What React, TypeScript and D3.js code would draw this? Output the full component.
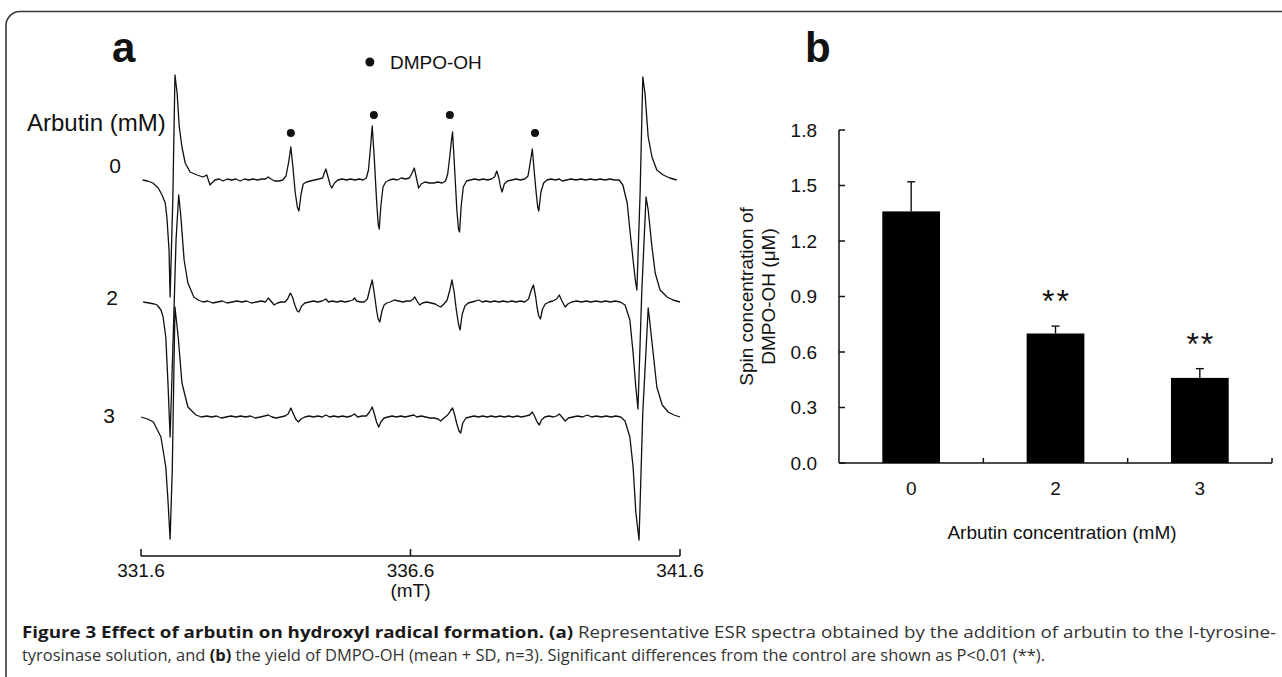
import React from "react";
import * as d3 from "d3";

type Pt = [number, number];

// ESR spectra: [field (mT), signal (a.u.)]
const spectrum0: Pt[] = [
  [331.63, 0], [331.72, -1], [331.82, -3], [331.92, -8], [331.99, -15], [332.05, -23],
  [332.08, -37], [332.12, -70], [332.14, -117], [332.19, -20], [332.23, 105], [332.27, 87],
  [332.31, 53], [332.36, 33], [332.42, 17], [332.51, 8], [332.64, 5], [332.75, 3],
  [332.82, 5], [332.88, -5], [332.97, 0], [333.05, 1], [333.12, -1], [333.2, 1],
  [333.28, 0], [333.36, 1], [333.44, -1], [333.52, 1], [333.6, 0], [333.68, 1],
  [333.76, 0], [333.84, 1], [333.91, 1], [333.96, 3], [334.01, 1], [334.08, -1],
  [334.16, -1], [334.23, 0], [334.29, 4], [334.34, 18], [334.38, 33], [334.42, 12],
  [334.46, -12], [334.5, -27], [334.53, -31], [334.57, -14], [334.61, -4], [334.67, -2],
  [334.74, -1], [334.82, 0], [334.9, 1], [334.97, 2], [335.0, 7], [335.03, 11],
  [335.07, 3], [335.11, -5], [335.14, -8], [335.19, -3], [335.25, 0], [335.33, 1],
  [335.41, 0], [335.49, 1], [335.57, 0], [335.65, 1], [335.72, 0], [335.78, 2],
  [335.82, 10], [335.86, 34], [335.89, 54], [335.93, 20], [335.97, -20], [336.0, -44],
  [336.02, -49], [336.05, -26], [336.09, -7], [336.14, -2], [336.21, 0], [336.28, 1],
  [336.35, 0], [336.43, 2], [336.51, 1], [336.58, 2], [336.63, 7], [336.67, 12],
  [336.71, 2], [336.75, -8], [336.8, -4], [336.87, -2], [336.95, -3], [337.03, -3],
  [337.11, -2], [337.19, -3], [337.25, -1], [337.29, 6], [337.33, 24], [337.36, 40],
  [337.38, 48], [337.42, 10], [337.46, -30], [337.49, -49], [337.51, -52], [337.54, -26],
  [337.58, -7], [337.64, -1], [337.71, 0], [337.79, 1], [337.87, 0], [337.95, 1],
  [338.03, 0], [338.1, 1], [338.16, 3], [338.2, 9], [338.24, 2], [338.27, -7],
  [338.3, -12], [338.34, -4], [338.4, -1], [338.48, 0], [338.56, 1], [338.64, 0],
  [338.72, 1], [338.78, 4], [338.82, 17], [338.86, 31], [338.89, 12], [338.93, -12],
  [338.96, -27], [338.98, -31], [339.02, -12], [339.07, -3], [339.13, 0], [339.21, 1],
  [339.29, 0], [339.36, 1], [339.42, -1], [339.49, 0], [339.58, 1], [339.67, 0],
  [339.76, 1], [339.85, 0], [339.94, 1], [340.03, 0], [340.12, 1], [340.21, 0],
  [340.3, 1], [340.39, 0], [340.47, 0], [340.54, -5], [340.62, -23], [340.67, -50],
  [340.73, -80], [340.77, -100], [340.8, -110], [340.86, -13], [340.91, 103], [340.95, 87],
  [341.01, 43], [341.08, 23], [341.17, 10], [341.29, 5], [341.41, 2], [341.54, 0],
];

const spectrum2: Pt[] = [
  [331.64, 0], [331.75, -1], [331.85, -2], [331.9, -3], [331.97, -8], [332.01, -15],
  [332.06, -35], [332.1, -81], [332.14, -135], [332.19, -48], [332.25, 62], [332.3, 107],
  [332.34, 85], [332.4, 42], [332.47, 19], [332.58, 5], [332.66, 2], [332.75, 0],
  [332.84, 1], [332.93, -1], [333.02, 0], [333.11, 1], [333.2, -1], [333.29, 0],
  [333.38, 1], [333.47, 0], [333.56, 1], [333.65, -1], [333.74, 0], [333.83, 1],
  [333.91, 0], [333.96, 4], [334.01, 1], [334.07, -3], [334.13, -1], [334.2, 0],
  [334.27, 0], [334.32, 3], [334.37, 9], [334.41, 5], [334.46, -4], [334.5, -9],
  [334.53, -10], [334.58, -4], [334.64, -1], [334.72, 0], [334.8, 1], [334.88, 0],
  [334.96, 1], [335.03, 3], [335.08, 0], [335.15, 1], [335.23, 0], [335.31, 1],
  [335.39, 0], [335.47, 1], [335.53, 2], [335.56, 4], [335.6, 1], [335.67, 0],
  [335.74, 0], [335.8, 3], [335.85, 14], [335.89, 22], [335.93, 8], [335.97, -8],
  [336.0, -17], [336.03, -20], [336.07, -9], [336.11, -3], [336.16, -1], [336.22, 0],
  [336.3, 2], [336.38, 1], [336.46, 0], [336.53, 1], [336.6, 1], [336.65, 3],
  [336.68, 5], [336.72, 1], [336.77, -3], [336.82, -1], [336.9, 0], [336.98, -1],
  [337.06, -2], [337.12, -4], [337.16, -5], [337.22, -2], [337.28, 2], [337.33, 12],
  [337.37, 22], [337.41, 10], [337.45, -8], [337.49, -22], [337.52, -28], [337.56, -12],
  [337.61, -4], [337.67, -1], [337.74, 0], [337.81, 1], [337.87, 2], [337.93, 0],
  [338.0, 1], [338.08, 0], [338.16, 1], [338.24, 0], [338.32, 1], [338.4, 0],
  [338.48, 1], [338.56, 0], [338.64, 1], [338.72, 0], [338.79, 3], [338.84, 12],
  [338.88, 17], [338.92, 6], [338.95, -6], [338.98, -14], [339.01, -17], [339.05, -7],
  [339.1, -2], [339.17, 0], [339.24, 1], [339.31, 3], [339.36, 7], [339.41, 1],
  [339.47, -5], [339.52, -2], [339.59, 0], [339.68, 1], [339.77, 0], [339.86, 1],
  [339.95, 0], [340.04, 1], [340.13, 0], [340.22, 1], [340.31, 0], [340.4, 1],
  [340.49, 0], [340.58, -3], [340.67, -18], [340.73, -51], [340.78, -85], [340.82, -107],
  [340.89, 9], [340.97, 105], [341.01, 92], [341.08, 55], [341.14, 29], [341.23, 12],
  [341.36, 5], [341.47, 2], [341.6, 0],
];

const spectrum3: Pt[] = [
  [331.6, 0], [331.72, -2], [331.83, -5], [331.97, -20], [332.06, -50], [332.1, -83],
  [332.14, -122], [332.18, -53], [332.23, 110], [332.29, 80], [332.36, 34], [332.47, 10],
  [332.62, 2], [332.72, 0], [332.82, 1], [332.91, 0], [333.0, 1], [333.09, -1],
  [333.18, 0], [333.27, 1], [333.36, 0], [333.45, 1], [333.54, 0], [333.63, 1],
  [333.72, -1], [333.81, 0], [333.89, 1], [333.96, 2], [334.03, 0], [334.11, -1],
  [334.19, 0], [334.27, 1], [334.33, 3], [334.38, 9], [334.42, 4], [334.47, -2],
  [334.52, -5], [334.57, -2], [334.64, 0], [334.72, 1], [334.8, 0], [334.88, 1],
  [334.96, 0], [335.03, 2], [335.1, 0], [335.18, 1], [335.26, 0], [335.34, 1],
  [335.42, 0], [335.5, 1], [335.56, 3], [335.62, 0], [335.7, 1], [335.78, 1],
  [335.84, 5], [335.89, 10], [335.93, 3], [335.97, -5], [336.01, -10], [336.05, -5],
  [336.11, -1], [336.18, 0], [336.26, 1], [336.34, 0], [336.42, 1], [336.5, 0],
  [336.58, 1], [336.66, 2], [336.72, 0], [336.8, 1], [336.88, 0], [336.96, -1],
  [337.04, -1], [337.11, -2], [337.16, -4], [337.22, -1], [337.29, 2], [337.34, 6],
  [337.38, 9], [337.42, 2], [337.46, -7], [337.5, -14], [337.53, -16], [337.57, -6],
  [337.63, -1], [337.7, 0], [337.78, 1], [337.86, 0], [337.94, 1], [338.02, 0],
  [338.1, 1], [338.18, 0], [338.26, 1], [338.34, 0], [338.42, 1], [338.5, 0],
  [338.58, 1], [338.66, 0], [338.74, 1], [338.81, 2], [338.86, 5], [338.9, 1],
  [338.95, -5], [338.99, -8], [339.03, -3], [339.09, 0], [339.17, 1], [339.25, 0],
  [339.31, 1], [339.36, 3], [339.41, 0], [339.47, -4], [339.53, -1], [339.61, 0],
  [339.7, 1], [339.79, 0], [339.88, 2], [339.96, 0], [340.05, 1], [340.14, 0],
  [340.23, 1], [340.32, 0], [340.41, 1], [340.5, 0], [340.58, -4], [340.67, -20],
  [340.73, -50], [340.78, -95], [340.84, -123], [340.91, 5], [341.01, 109], [341.04, 95],
  [341.12, 55], [341.17, 30], [341.27, 12], [341.38, 5], [341.49, 2], [341.6, 0],
];

const spectra = [spectrum0, spectrum2, spectrum3];
const arbutinLevels = ["0", "2", "3"];
const traceOffsets = [0, -122, -237];
const fieldTicks = [331.6, 336.6, 341.6];
// DMPO-OH quartet markers (field, height above trace 0)
const dmpoFields = [334.38, 335.92, 337.33, 338.91];
const dmpoLevels = [47, 65, 65, 47];

// panel b
const concentrations = ["0", "2", "3"];
const spinMean = [1.36, 0.7, 0.46];
const spinSd = [0.16, 0.04, 0.05];
const signif = ["", "**", "**"];
const spinTicks = [0, 0.3, 0.6, 0.9, 1.2, 1.5, 1.8];

const ARIAL = "'Liberation Sans', Arial, Helvetica, sans-serif";
const CAPTION = "'Open Sans', 'Noto Sans', sans-serif";
const INK = "#111";

export default function App() {
  const xField = d3.scaleLinear().domain([331.6, 341.6]).range([141, 680]);
  const ySignal = d3.scaleLinear().domain([0, -100]).range([180, 280]);
  const line = (off: number) =>
    d3
      .line<Pt>()
      .x((d) => xField(d[0]))
      .y((d) => ySignal(d[1] + off));

  const xBand = d3
    .scaleBand<string>()
    .domain(concentrations)
    .range([839, 1272])
    .paddingInner(0.6)
    .paddingOuter(0.3);
  const yConc = d3.scaleLinear().domain([0, 1.8]).range([463, 130]);
  const [bx0, bx1] = xBand.range();
  const yZero = yConc(0);
  const labelDy = [-7, 3, 6];

  return (
    <svg
      width={1282}
      height={677}
      style={{ position: "absolute", left: 0, top: 0, background: "#fff" }}
      fontFamily={ARIAL}
    >
      <rect x={6} y={11.5} width={1400} height={800} rx={14} fill="none" stroke="#3a3a3a" strokeWidth={1.6} />

      {/* panel a */}
      <text x={112} y={62} fontSize={42} fontWeight="bold" fill={INK}>a</text>
      <circle cx={xField(dmpoFields[1]) - 4} cy={62} r={4.5} fill={INK} />
      <text x={390} y={68.5} fontSize={19} fill={INK}>DMPO-OH</text>
      <text x={27} y={131} fontSize={24} fill={INK}>Arbutin (mM)</text>

      {spectra.map((s, i) => (
        <g key={i}>
          <path d={line(traceOffsets[i])(s) || ""} fill="none" stroke={INK} strokeWidth={1.3} strokeLinejoin="round" />
          <text
            x={121 - i * 3}
            y={ySignal(traceOffsets[i]) + labelDy[i]}
            fontSize={21}
            textAnchor="end"
            fill={INK}
          >
            {arbutinLevels[i]}
          </text>
        </g>
      ))}
      {dmpoFields.map((f, i) => (
        <circle key={i} cx={xField(f)} cy={ySignal(dmpoLevels[i])} r={4} fill={INK} />
      ))}

      <g stroke={INK} strokeWidth={1.5}>
        <line x1={xField(fieldTicks[0])} x2={xField(fieldTicks[2])} y1={556} y2={556} />
        {fieldTicks.map((t) => (
          <line key={t} x1={xField(t)} x2={xField(t)} y1={556} y2={549} />
        ))}
      </g>
      {fieldTicks.map((t) => (
        <text key={t} x={xField(t)} y={577} fontSize={19} textAnchor="middle" fill={INK}>
          {t.toFixed(1)}
        </text>
      ))}
      <text x={xField(fieldTicks[1])} y={597} fontSize={19} textAnchor="middle" fill={INK}>(mT)</text>

      {/* panel b */}
      <text x={805} y={62} fontSize={42} fontWeight="bold" fill={INK}>b</text>
      <g stroke={INK} strokeWidth={1.5} fill="none">
        <line x1={bx0} x2={bx0} y1={yConc(1.8)} y2={yZero} />
        <line x1={bx0} x2={bx1} y1={yZero} y2={yZero} />
        {spinTicks.map((t) => (
          <line key={t} x1={bx0} x2={bx0 + 6} y1={yConc(t)} y2={yConc(t)} />
        ))}
        {concentrations.map((c, i) => {
          const xt = bx0 + xBand.step() * (i + 1);
          return <line key={c} x1={xt} x2={xt} y1={yZero} y2={yZero - 5} />;
        })}
      </g>
      {spinTicks.map((t) => (
        <text key={t} x={817} y={yConc(t) + 6.5} fontSize={19} textAnchor="end" fill={INK}>
          {t.toFixed(1)}
        </text>
      ))}
      {concentrations.map((c, i) => {
        const x = xBand(c)!;
        const w = xBand.bandwidth();
        const cx = x + w / 2;
        const top = yConc(spinMean[i] + spinSd[i]);
        return (
          <g key={c}>
            <rect x={x} y={yConc(spinMean[i])} width={w} height={yZero - yConc(spinMean[i])} fill="#000" />
            <g stroke={INK} strokeWidth={1.4}>
              <line x1={cx} x2={cx} y1={yConc(spinMean[i])} y2={top} />
              <line x1={cx - 4} x2={cx + 4} y1={top} y2={top} />
            </g>
            {signif[i] && (
              <text x={cx + 1} y={top - 14} fontSize={32} letterSpacing={2} textAnchor="middle" fill={INK}>
                {signif[i]}
              </text>
            )}
            <text x={cx} y={495} fontSize={19} textAnchor="middle" fill={INK}>{c}</text>
          </g>
        );
      })}
      <text x={1062} y={539} fontSize={19} textAnchor="middle" fill={INK}>Arbutin concentration (mM)</text>
      <text transform={`translate(753, ${(yConc(1.8) + yZero) / 2}) rotate(-90)`} fontSize={19} textAnchor="middle" fill={INK}>
        Spin concentration of
      </text>
      <text transform={`translate(775, ${(yConc(1.8) + yZero) / 2}) rotate(-90)`} fontSize={19} textAnchor="middle" fill={INK}>
        DMPO-OH (μM)
      </text>

      {/* caption */}
      <text x={22} y={638} fontFamily={CAPTION} fontSize={16} fill="#333" textLength={1254} lengthAdjust="spacingAndGlyphs">
        <tspan fontWeight="bold" fill="#1a1a1a">Figure 3 Effect of arbutin on hydroxyl radical formation. (a)</tspan>
        <tspan> Representative ESR spectra obtained by the addition of arbutin to the l-tyrosine-</tspan>
      </text>
      <text x={22} y={661} fontFamily={CAPTION} fontSize={16} fill="#333" textLength={1023} lengthAdjust="spacingAndGlyphs">
        <tspan>tyrosinase solution, and </tspan>
        <tspan fontWeight="bold" fill="#1a1a1a">(b)</tspan>
        <tspan>{" the yield of DMPO-OH (mean + SD, n=3). Significant differences from the control are shown as P<0.01 (**)."}</tspan>
      </text>
    </svg>
  );
}
